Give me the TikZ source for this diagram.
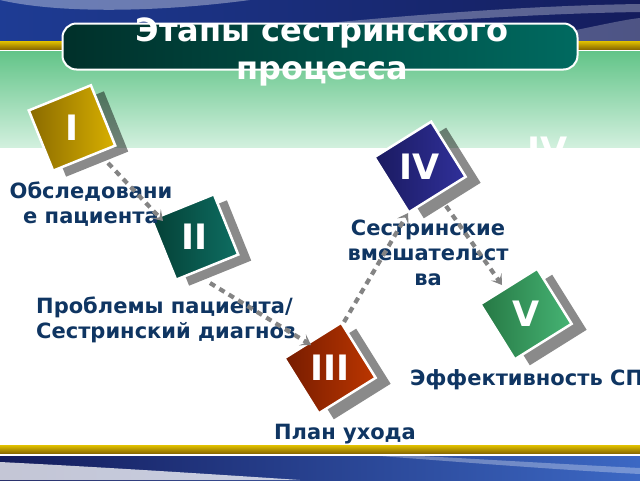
\documentclass[tikz,border=0pt]{standalone}
\usepackage{fontspec}
\setmainfont{DejaVu Sans}
\usetikzlibrary{arrows.meta,calc}
\definecolor{navytxt}{HTML}{0F3562}
\definecolor{greytone}{HTML}{848484}
\definecolor{gold1}{HTML}{E2C200}
\definecolor{gold2}{HTML}{8C6C00}
\definecolor{green1}{HTML}{62C488}
\definecolor{green2}{HTML}{D2F0DE}
\definecolor{blueA}{HTML}{1E3C94}
\definecolor{blueB}{HTML}{3C68C4}
\definecolor{blueC}{HTML}{141C5C}
\definecolor{tealA}{HTML}{00302A}
\definecolor{tealB}{HTML}{006A60}
\definecolor{cIa}{HTML}{D8B000}\definecolor{cIb}{HTML}{8A6A00}
\definecolor{cIIa}{HTML}{0E6E62}\definecolor{cIIb}{HTML}{044036}
\definecolor{cIIIa}{HTML}{BC3600}\definecolor{cIIIb}{HTML}{761C00}
\definecolor{cIVa}{HTML}{30309A}\definecolor{cIVb}{HTML}{1A1A60}
\definecolor{cVa}{HTML}{46B474}\definecolor{cVb}{HTML}{267844}
\begin{document}
\begin{tikzpicture}[x=1pt,y=-1pt,
  sqbox/.style={minimum width=67pt,minimum height=65pt,inner sep=0pt,draw=white,line width=2.5pt},
  shdbox/.style={minimum width=67pt,minimum height=65pt,inner sep=0pt,fill=black,fill opacity=0.46},
  numtext/.style={text=white,font=\bfseries\fontsize{35}{35}\selectfont,inner sep=0pt},
  lbl/.style={text=navytxt,font=\bfseries\fontsize{21}{25}\selectfont,align=center,inner sep=0pt},
  conn/.style={draw=greytone,line width=4.2pt,dash pattern=on 6pt off 5pt,-{Stealth[length=10pt,width=13pt,inset=5pt]}}
]
\useasboundingbox (0,0) rectangle (640,480);
\clip (0,0) rectangle (640,480);
\fill[white] (0,0) rectangle (640,480);
% top band
\shade[left color=blueA,middle color=blueB,right color=blueC] (0,0) rectangle (640,41);
\fill[white,opacity=0.35] (0,0) .. controls (60,14) and (160,12) .. (250,0) -- cycle;
\fill[white,opacity=0.30] (200,36) .. controls (350,20) and (500,6) .. (640,4) -- (640,12) .. controls (500,14) and (350,28) .. (200,36) -- cycle;
\fill[white,opacity=0.25] (520,41) .. controls (580,30) and (620,20) .. (640,18) -- (640,41) -- cycle;
\shade[top color=gold1,bottom color=gold2] (0,41) rectangle (640,49);
\shade[top color=green1,bottom color=green2] (0,51) rectangle (640,147);
% bottom band
\shade[top color=gold1,bottom color=gold2] (0,445) rectangle (640,453);
\shade[left color=blueC,middle color=blueA,right color=blueB] (0,456) rectangle (640,480);
\fill[white,opacity=0.75] (0,462) .. controls (80,466) and (180,472) .. (300,480) -- (0,480) -- cycle;
\fill[white,opacity=0.30] (380,456) .. controls (460,462) and (560,470) .. (640,474) -- (640,468) .. controls (560,464) and (460,458) .. (420,456) -- cycle;
% title
\node[rounded corners=14pt,draw=white,line width=2pt,left color=tealA,right color=tealB,minimum width=515pt,minimum height=46pt] (tbox) at (320,46.5) {};
\node[text=white,font=\bfseries\fontsize{32}{38}\selectfont,align=center,inner sep=0pt] (title) at (322,52) {Этапы сестринского\\процесса};
% ghost text
\node[numtext] (ghost) at (548,150) {IV};
% shadows
\node[shdbox,rotate=22] (shI) at (85,134) {};
\node[shdbox,rotate=22] (shII) at (208,243) {};
\node[shdbox,rotate=32] (shIII) at (345,374) {};
\node[shdbox,rotate=32] (shIV) at (435,173) {};
\node[shdbox,rotate=32] (shV) at (541,320) {};
% squares
\node[sqbox,rotate=22,left color=cIb,right color=cIa] (sqI) at (72,128) {};
\node[sqbox,rotate=22,left color=cIIb,right color=cIIa] (sqII) at (195,237) {};
\node[sqbox,rotate=32,left color=cIIIb,right color=cIIIa] (sqIII) at (330,368) {};
\node[sqbox,rotate=32,left color=cIVb,right color=cIVa] (sqIV) at (420,167) {};
\node[sqbox,rotate=32,left color=cVb,right color=cVa] (sqV) at (526,314) {};
\node[numtext] (nI) at (sqI) {I};
\node[numtext] (nII) at (sqII) {II};
\node[numtext] (nIII) at (sqIII) {III};
\node[numtext] (nIV) at (sqIV) {IV};
\node[numtext] (nV) at (sqV) {V};
% labels
\node[lbl] (lI) at (91,204) {Обследовани\\е пациента};
\node[lbl] (lIV) at (428,253) {Сестринские\\вмешательст\\ва};
\node[lbl,align=left,anchor=west] (lII) at (36,320) {Проблемы пациента/\\Сестринский диагноз};
\node[lbl,anchor=west] (lV) at (410,380) {Эффективность СП};
\node[lbl] (lIII) at (345,434) {План ухода};
% connectors
\coordinate (a1) at (108,163);
\coordinate (a2) at (163,221);
\coordinate (b1) at (210,283);
\coordinate (b2) at (311,345);
\coordinate (c1) at (344,322);
\coordinate (c2) at (408,213);
\coordinate (d1) at (446,206);
\coordinate (d2) at (502,285);
\draw[conn] (a1) -- (a2);
\draw[conn] (b1) -- (b2);
\draw[conn] (c1) -- (c2);
\draw[conn] (d1) -- (d2);
\end{tikzpicture}
\end{document}
